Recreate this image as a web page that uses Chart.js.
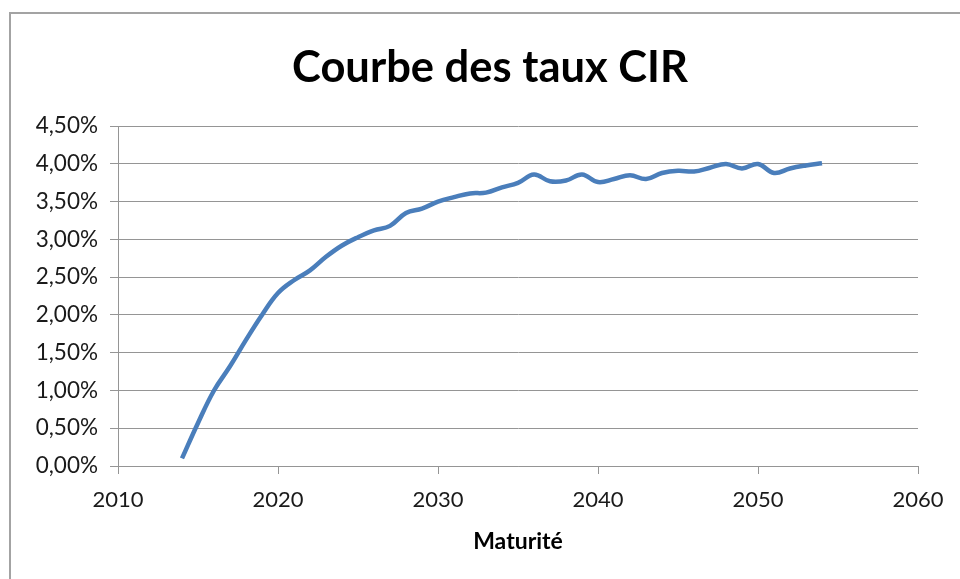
<!DOCTYPE html>
<html>
<head>
<meta charset="utf-8">
<script src="https://cdn.jsdelivr.net/npm/chart.js"></script>
<style>
  html, body { margin: 0; padding: 0; background: #fff; }
  body { width: 960px; height: 579px; position: relative; overflow: hidden; }
  #frame { position: absolute; left: 9px; top: 12px; width: 1000px; height: 620px; border: 2px solid #a3a3a3; }
  #myChart { position: absolute; left: 0; top: 0; }
</style>
</head>
<body>
<div id="frame"></div>
<canvas id="myChart" width="960" height="579"></canvas>
<script>
// maturités (années) et taux en %
const years = [
  2014, 2015, 2016, 2017, 2018, 2019, 2020, 2021, 2022, 2023,
  2024, 2025, 2026, 2027, 2028, 2029, 2030, 2031, 2032, 2033,
  2034, 2035, 2036, 2037, 2038, 2039, 2040, 2041, 2042, 2043,
  2044, 2045, 2046, 2047, 2048, 2049, 2050, 2051, 2052, 2053, 2054
];
const rates = [
  0.10, 0.57, 1.00, 1.32, 1.67, 2.00, 2.29, 2.46, 2.59, 2.77,
  2.92, 3.03, 3.12, 3.18, 3.35, 3.41, 3.50, 3.56, 3.61, 3.62,
  3.69, 3.75, 3.86, 3.77, 3.78, 3.86, 3.76, 3.80, 3.85, 3.80,
  3.88, 3.91, 3.90, 3.95, 4.00, 3.94, 4.00, 3.88, 3.94, 3.98, 4.01
];
const xTicks = [2010, 2020, 2030, 2040, 2050, 2060];
const yTicks = [0, 0.5, 1, 1.5, 2, 2.5, 3, 3.5, 4, 4.5];

const points = years.map((y, i) => ({ x: y, y: rates[i] }));
const gridGray = "#959595";

// shift the title box so it is centred like in the original
const titleShift = {
  id: "titleShift",
  afterLayout(chart) {
    const t = chart.titleBlock;
    if (t) { t.left = 62; t.width = t.right - t.left; }
  }
};

const ctx = document.getElementById("myChart").getContext("2d");
const chart = new Chart(ctx, {
  type: "line",
  data: {
    datasets: [
      {
        label: "Taux CIR",
        data: points,
        borderColor: "#4a7ebb",
        borderWidth: 4.5,
        tension: 0.4,
        pointRadius: 0,
        fill: false
      }
    ]
  },
  options: {
    responsive: false,
    animation: false,
    devicePixelRatio: 1,
    layout: { padding: { left: 0, right: 42, top: 0, bottom: 0 } },
    plugins: {
      legend: { display: false },
      tooltip: { enabled: false },
      title: {
        display: true,
        text: "Courbe des taux CIR",
        color: "#000",
        font: { family: "Lato", size: 43.5, weight: "bold", lineHeight: 1.2 },
        padding: { top: 42, bottom: 32 }
      }
    },
    scales: {
      x: {
        type: "linear",
        min: xTicks[0],
        max: xTicks[xTicks.length - 1],
        afterBuildTicks: (scale) => { scale.ticks = xTicks.map(v => ({ value: v })); },
        afterFit: (scale) => { scale.height = 113; },
        ticks: {
          callback: (v) => String(v),
          color: "#1a1a1a",
          padding: 13,
          maxRotation: 0,
          font: { family: "Lato", size: 22 }
        },
        grid: { drawOnChartArea: false, drawTicks: true, tickLength: 8, color: gridGray },
        border: { display: true, color: gridGray, width: 1 },
        title: {
          display: true,
          text: "Maturité",
          color: "#000",
          font: { family: "Lato", size: 23, weight: "bold", lineHeight: 1.2 },
          padding: { top: 4, bottom: 24 }
        }
      },
      y: {
        min: 0,
        max: 4.5,
        afterBuildTicks: (scale) => { scale.ticks = yTicks.map(v => ({ value: v })); },
        afterFit: (scale) => { scale.width = 118; },
        ticks: {
          callback: (v) => v.toFixed(2).replace(".", ",") + "%",
          color: "#1a1a1a",
          padding: 12,
          font: { family: "Lato", size: 22.5 }
        },
        grid: { drawTicks: true, tickLength: 8, color: gridGray, lineWidth: 1 },
        border: { display: true, color: gridGray, width: 1 }
      }
    }
  },
  plugins: [titleShift]
});
</script>
</body>
</html>
